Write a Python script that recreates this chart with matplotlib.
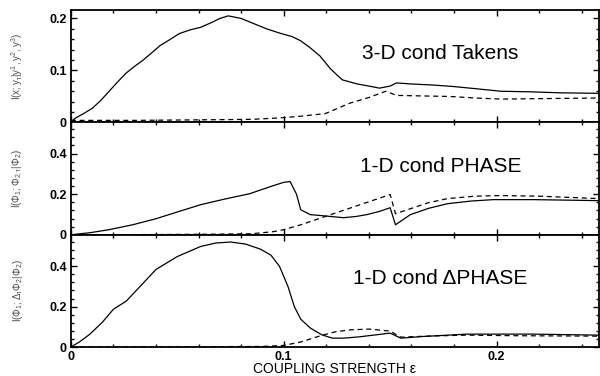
import matplotlib
matplotlib.use('Agg')
import matplotlib.pyplot as plt
from matplotlib.ticker import MultipleLocator

plt.rcParams['font.family'] = ['Liberation Sans', 'DejaVu Sans']
plt.rcParams['mathtext.fontset'] = 'custom'
plt.rcParams['mathtext.rm'] = 'Liberation Sans'
plt.rcParams['mathtext.it'] = 'Liberation Sans'

######################### DATA ################################################

# top panel: 3-D conditioning (Takens embedding)
tk_x = [0, 0.002, 0.006, 0.010, 0.014, 0.018, 0.022, 0.026, 0.030, 0.034,
        0.038, 0.042, 0.046, 0.051, 0.056, 0.061, 0.066, 0.070, 0.074, 0.080,
        0.086, 0.092, 0.098, 0.104, 0.108, 0.112, 0.117, 0.122, 0.1275, 0.1346,
        0.140, 0.145, 0.150, 0.153, 0.160, 0.170, 0.180, 0.190, 0.202, 0.215,
        0.230, 0.248]
tk_solid = [0, 0.008, 0.017, 0.027, 0.042, 0.060, 0.078, 0.095, 0.108, 0.120,
            0.134, 0.148, 0.158, 0.171, 0.178, 0.183, 0.192, 0.200, 0.205, 0.200,
            0.190, 0.180, 0.172, 0.165, 0.157, 0.145, 0.128, 0.103, 0.082, 0.074,
            0.070, 0.066, 0.070, 0.076, 0.074, 0.072, 0.069, 0.065, 0.060, 0.059,
            0.057, 0.056]
tkd_x = [0, 0.03, 0.06, 0.085, 0.095, 0.102, 0.108, 0.1195, 0.131, 0.140,
         0.148, 0.153, 0.165, 0.178, 0.190, 0.202, 0.225, 0.248]
tk_dash = [0.004, 0.004, 0.005, 0.006, 0.008, 0.010, 0.012, 0.017, 0.037, 0.048,
           0.060, 0.052, 0.051, 0.050, 0.047, 0.045, 0.046, 0.047]

# middle panel: 1-D conditioning on phase
ph_x = [0, 0.009, 0.018, 0.029, 0.040, 0.050, 0.061, 0.072, 0.084, 0.094,
        0.100, 0.103, 0.106, 0.108, 0.1125, 0.118, 0.123, 0.128, 0.134, 0.139,
        0.145, 0.150, 0.1525, 0.1595, 0.168, 0.177, 0.188, 0.1986, 0.217, 0.248]
ph_solid = [0, 0.010, 0.025, 0.049, 0.079, 0.112, 0.148, 0.175, 0.202, 0.238,
            0.258, 0.262, 0.200, 0.123, 0.099, 0.094, 0.089, 0.084, 0.090, 0.099,
            0.115, 0.133, 0.049, 0.099, 0.130, 0.153, 0.166, 0.173, 0.173, 0.168]
phd_x = [0, 0.04, 0.07, 0.085, 0.095, 0.100, 0.108, 0.150, 0.1525, 0.1595,
         0.168, 0.177, 0.190, 0.202, 0.220, 0.248]
ph_dash = [0, 0.001, 0.003, 0.005, 0.015, 0.025, 0.049, 0.198, 0.104, 0.128,
           0.158, 0.178, 0.190, 0.193, 0.190, 0.178]

# bottom panel: 1-D conditioning on phase increment
dp_x = [0, 0.004, 0.009, 0.015, 0.020, 0.026, 0.033, 0.040, 0.050, 0.061,
        0.068, 0.075, 0.082, 0.089, 0.094, 0.098, 0.102, 0.105, 0.108, 0.1125,
        0.118, 0.123, 0.128, 0.135, 0.143, 0.150, 0.155, 0.165, 0.186, 0.217,
        0.248]
dp_solid = [0, 0.025, 0.064, 0.125, 0.187, 0.227, 0.305, 0.384, 0.448, 0.498,
            0.515, 0.520, 0.510, 0.485, 0.455, 0.400, 0.300, 0.200, 0.138, 0.094,
            0.060, 0.044, 0.044, 0.050, 0.060, 0.069, 0.044, 0.052, 0.064, 0.064,
            0.059]
dpd_x = [0, 0.05, 0.09, 0.100, 0.108, 0.117, 0.124, 0.131, 0.140, 0.150,
         0.155, 0.170, 0.186, 0.210, 0.248]
dp_dash = [0, 0.001, 0.003, 0.008, 0.025, 0.055, 0.075, 0.085, 0.089, 0.079,
           0.049, 0.055, 0.059, 0.056, 0.054]

panels = [
    (tk_x, tk_solid, tkd_x, tk_dash, 0.216, 0.1, 0.02,
     r'I$(x;y_\tau|y^1,y^2,y^3)$', '3-D cond Takens'),
    (ph_x, ph_solid, phd_x, ph_dash, 0.553, 0.2, 0.04,
     r'I$(\Phi_1;\Phi_{2,\tau}|\Phi_2)$', '1-D cond PHASE'),
    (dp_x, dp_solid, dpd_x, dp_dash, 0.556, 0.2, 0.04,
     r'I$(\Phi_1;\Delta_\tau\Phi_2|\Phi_2)$', '1-D cond \u0394PHASE'),
]

xticks = [0, 0.1, 0.2]
xtick_labels = ['0', '0.1', '0.2']

######################### FIGURE ##############################################

fig, axes = plt.subplots(3, 1, figsize=(6.0, 3.76), dpi=100, sharex=True)
plt.subplots_adjust(left=0.118, right=0.998, top=0.973, bottom=0.077, hspace=0)

for ax, (xs, ys, xd, yd, ymax, major, minor, ylab, title) in zip(axes, panels):
    ax.plot(xs, ys, c='k', lw=0.9)
    ax.plot(xd, yd, c='k', lw=0.9, ls=(0, (4, 3)))
    ax.set_xlim(0, 0.248)
    ax.set_ylim(0, ymax)
    ax.yaxis.set_major_locator(MultipleLocator(major))
    ax.yaxis.set_minor_locator(MultipleLocator(minor))
    ax.xaxis.set_major_locator(MultipleLocator(0.1))
    ax.xaxis.set_minor_locator(MultipleLocator(0.02))
    ax.tick_params(which='both', direction='in', top=True, right=True, width=1)
    ax.tick_params(which='major', length=4, labelsize=9, pad=3)
    ax.tick_params(which='minor', length=2)
    ax.yaxis.set_major_formatter(plt.FuncFormatter(lambda v, p: '0' if v == 0 else '%g' % v))
    for lab in ax.get_yticklabels():
        lab.set_fontweight('bold')
    for s in ax.spines.values():
        s.set_linewidth(1.3)
    ax.set_ylabel(ylab, fontsize=7, color='0.3')
    ax.yaxis.set_label_coords(-0.087, 0.5)
    ax.text(0.70, 0.61, title, transform=ax.transAxes, ha='center', va='center',
            fontsize=15)

axes[-1].set_xticks(xticks)
axes[-1].set_xticklabels(xtick_labels, fontweight='bold')
axes[-1].set_xlabel('COUPLING STRENGTH \u03b5', fontsize=10, labelpad=-1)

plt.savefig('out.png', dpi=100)
plt.close()
